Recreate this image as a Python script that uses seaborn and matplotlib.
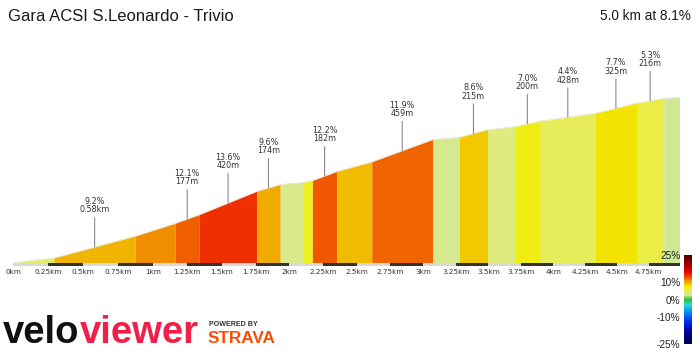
import numpy as np
import matplotlib
matplotlib.use("Agg")
import matplotlib.pyplot as plt
import seaborn as sns
from matplotlib.colors import LinearSegmentedColormap, Normalize
from matplotlib.ticker import NullLocator

# ---------------- data ----------------
title_text = "Gara ACSI S.Leonardo - Trivio"
summary_text = "5.0 km at 8.1%"

seg_length_m = [291, 580, 290, 177, 420, 174, 164, 74, 182, 262,
                459, 205, 215, 207, 200, 428, 325, 216, 125]
seg_grade_pct = [4.0, 9.2, 10.8, 12.1, 13.6, 9.6, 3.0, 6.5, 12.2, 9.0,
                 11.9, 2.8, 8.6, 3.5, 7.0, 4.4, 7.7, 5.3, 2.5]
seg_label = ["", "9.2%\n0.58km", "", "12.1%\n177m", "13.6%\n420m", "9.6%\n174m",
             "", "", "12.2%\n182m", "", "11.9%\n459m", "", "8.6%\n215m", "",
             "7.0%\n200m", "4.4%\n428m", "7.7%\n325m", "5.3%\n216m", ""]

tick_km = [0, 0.25, 0.5, 0.75, 1, 1.25, 1.5, 1.75, 2, 2.25, 2.5, 2.75,
           3, 3.25, 3.5, 3.75, 4, 4.25, 4.5, 4.75]
tick_labels = ["0km", "0.25km", "0.5km", "0.75km", "1km", "1.25km", "1.5km",
               "1.75km", "2km", "2.25km", "2.5km", "2.75km", "3km", "3.25km",
               "3.5km", "3.75km", "4km", "4.25km", "4.5km", "4.75km"]
total_km = 5.0

cbar_ticks = [-25, -10, 0, 10, 25]
cbar_labels = ["-25%", "-10%", "0%", "10%", "25%"]

# ---------------- derived ----------------
lengths_km = np.array(seg_length_m) / 1000.0
edges = np.concatenate([[0.0], np.cumsum(lengths_km)])
elev = np.concatenate([[0.0], np.cumsum(np.array(seg_length_m) * np.array(seg_grade_pct) / 100.0)])

# gradient colour scale (-25% .. 25%)
stops = [(-25, "#000040"), (-18, "#0000a0"), (-12, "#0030f0"), (-7, "#0090f0"),
         (-3, "#30d8d8"), (0, "#20c030"), (1.5, "#98dc70"), (2.5, "#d2e996"),
         (3.2, "#dde988"), (4.4, "#e6ec5a"), (5.3, "#e9ed48"), (6.5, "#eef024"),
         (7.5, "#f2ea00"), (8.6, "#f2cc00"), (9.2, "#f0b800"), (9.6, "#f0ac00"),
         (10.8, "#f09000"), (12.0, "#f06000"), (13.6, "#f03000"), (16, "#e00000"),
         (20, "#a00000"), (25, "#500000")]
cmap = LinearSegmentedColormap.from_list("grade", [((g + 25) / 50.0, c) for g, c in stops])
norm = Normalize(-25, 25)

# slight perspective of the horizontal axis
C = 0.011245
def fwd(d):
    d = np.asarray(d, dtype=float)
    return d - C * d * d
def inv(u):
    u = np.asarray(u, dtype=float)
    return (1 - np.sqrt(np.clip(1 - 4 * C * u, 0, None))) / (2 * C)

# ---------------- figure ----------------
sns.set_style("white")
plt.rcParams["font.family"] = ["DejaVu Sans"]

W, H = 700, 350
fig = plt.figure(figsize=(W / 100, H / 100), dpi=100)
m_per_px = 2.45
ax_left, ax_right, ax_bottom, ax_top = 13, 680.25, 265.5, 40
ax = fig.add_axes([ax_left / W, (H - ax_bottom) / H, (ax_right - ax_left) / W,
                   (ax_bottom - ax_top) / H])
ax.set_xscale("function", functions=(fwd, inv))
ax.set_xlim(0, total_km)
strip_h = 2.8 * m_per_px
ax.set_ylim(-strip_h, (262.7 - ax_top) * m_per_px)

for i in range(len(seg_length_m)):
    ax.fill_between([edges[i], edges[i + 1]], [elev[i], elev[i + 1]], 0,
                    color=cmap(norm(seg_grade_pct[i])), linewidth=0)

sns.lineplot(x=edges, y=elev, ax=ax, color="#b0a040", linewidth=0.4, alpha=0.35)

# distance strip
n_blocks = int(round(total_km / 0.25))
for k in range(n_blocks):
    ax.fill_between([k * 0.25, (k + 1) * 0.25], -strip_h, 0,
                    color="#333333" if k % 2 == 1 else "#d9d9d9", linewidth=0)

# segment annotations
for i, lab in enumerate(seg_label):
    if not lab:
        continue
    xm = (edges[i] + edges[i + 1]) / 2
    ym = np.interp(xm, edges, elev)
    ax.annotate(lab, xy=(xm, ym), xytext=(0, 23.5), textcoords="offset points",
                ha="center", va="bottom", fontsize=5.8, color="#333333",
                linespacing=0.92,
                arrowprops=dict(arrowstyle="-", color="#8a8a8a", lw=0.8,
                                shrinkA=0, shrinkB=0))

ax.set_xticks(tick_km)
ax.set_xticklabels(tick_labels, fontsize=5.2, color="#333333")
ax.xaxis.set_minor_locator(NullLocator())
ax.tick_params(axis="x", length=0, pad=2.6)
ax.set_yticks([])
for s in ax.spines.values():
    s.set_visible(False)
ax.set_xlabel("")
ax.set_ylabel("")

# colour bar
cax = fig.add_axes([684 / W, (H - 344) / H, 8 / W, 89 / H])
grad = np.linspace(-25, 25, 256)[:, None]
cax.imshow(grad, aspect="auto", cmap=cmap, norm=norm, origin="lower",
           extent=(0, 1, -25, 25))
cax.set_xticks([])
cax.set_yticks(cbar_ticks)
cax.set_yticklabels(cbar_labels, fontsize=7.2, color="#222222", family="Liberation Sans")
cax.tick_params(axis="y", length=0, pad=2.5)
for s in cax.spines.values():
    s.set_visible(False)

# titles
fig.text(8 / W, 1 - 21 / H, title_text, fontsize=12, family="Liberation Sans",
         color="#1a1a1a", ha="left", va="baseline")
fig.text(691 / W, 1 - 20 / H, summary_text, fontsize=9.8, family="Liberation Sans",
         color="#1a1a1a", ha="right", va="baseline")

# logos as text
t1 = fig.text(3 / W, 1 - 343 / H, "velo", fontsize=27.5, fontweight="heavy",
              family="Liberation Sans", color="#111111", ha="left", va="baseline")
fig.canvas.draw()
bb = t1.get_window_extent(renderer=fig.canvas.get_renderer())
fig.text(bb.x1 / fig.bbox.width, 1 - 343 / H, "viewer", fontsize=27.5, fontweight="heavy",
         family="Liberation Sans", color="#f0204a", ha="left", va="baseline")
fig.text(209 / W, 1 - 326 / H, "POWERED BY", fontsize=5.1, fontweight="bold",
         family="Liberation Sans", color="#333333", ha="left", va="baseline")
fig.text(208 / W, 1 - 343.3 / H, "STRAVA", fontsize=12.3, fontweight="heavy",
         family="Liberation Sans", color="#fc4c02", ha="left", va="baseline")

fig.savefig("out.png", dpi=100)
